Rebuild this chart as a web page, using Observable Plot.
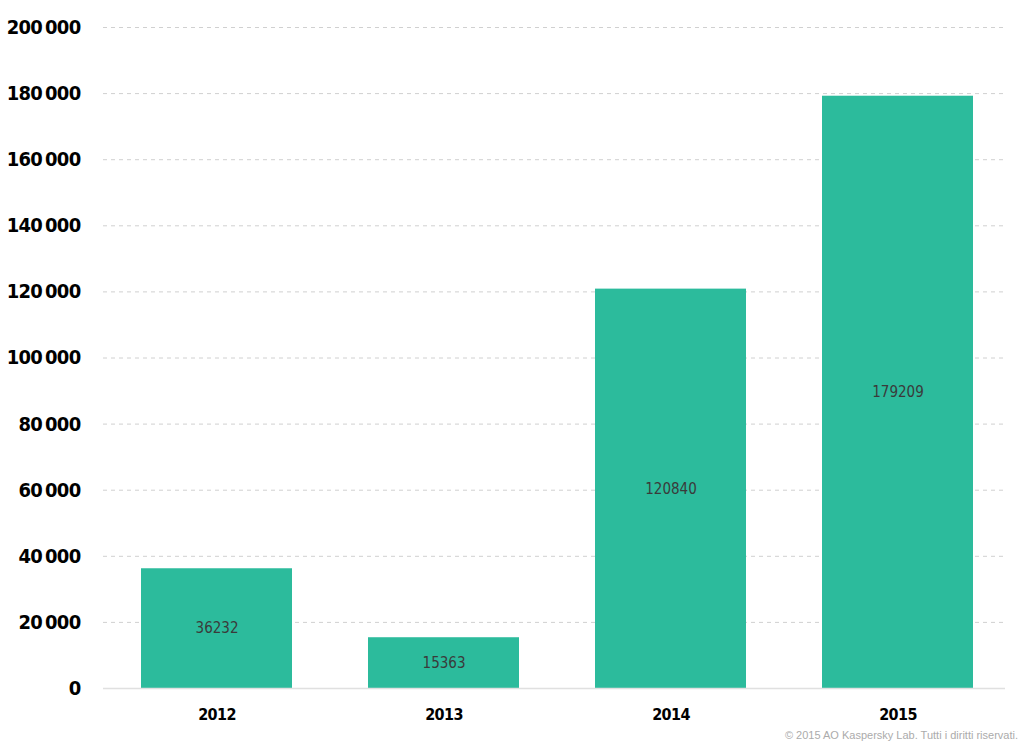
<!DOCTYPE html>
<html>
<head>
<meta charset="utf-8">
<script src="https://cdn.jsdelivr.net/npm/d3@7"></script>
<script src="https://cdn.jsdelivr.net/npm/@observablehq/plot@0.6"></script>
<style>
  body { margin: 0; background: #fff; }
  #chart svg { display: block; }
  #chart svg text { font-stretch: condensed; }
  #chart svg g[aria-label="y-axis tick label"] text { letter-spacing: -0.7px; }
  #chart svg g[aria-label="x-axis tick label"] text { letter-spacing: -0.6px; }
  #caption { font-family: "Liberation Sans", Arial, sans-serif; font-size: 11px; color: #ababab; text-align: right; padding-right: 6px; line-height: 14px; margin-top: 2px; }
</style>
</head>
<body>
<div id="chart"></div>
<div id="caption">© 2015 AO Kaspersky Lab. Tutti i diritti riservati.</div>
<script>
const years = ["2012", "2013", "2014", "2015"];
const values = [36232, 15363, 120840, 179209];
const yTicks = [0, 20000, 40000, 60000, 80000, 100000, 120000, 140000, 160000, 180000, 200000];

const data = years.map((y, i) => ({year: y, value: values[i]}));
const fmt = d => d3.format(",")(d).replace(/,/g, "\u2009");
const font = "'DejaVu Sans Condensed', 'DejaVu Sans', sans-serif";

const chart = Plot.plot({
  width: 1024,
  height: 726,
  marginLeft: 103,
  marginRight: 13,
  marginTop: 27,
  marginBottom: 38,
  style: {fontFamily: font, background: "#fff"},
  x: {domain: years, paddingInner: 0.335, paddingOuter: 0.1675, label: null},
  y: {domain: [0, 200000], label: null},
  marks: [
    Plot.ruleY(yTicks.filter(d => d > 0), {stroke: "#d0d0d0", strokeDasharray: "4,4", strokeWidth: 1, insetRight: 6}),
    Plot.barY(data, {x: "year", y: "value", fill: "#2cbb9c"}),
    Plot.ruleY([0], {stroke: "#e0e0e0", strokeWidth: 1.5, insetRight: 6}),
    Plot.text(data, {x: "year", y: d => d.value / 2, text: d => String(d.value), fill: "#3a3a3a", fontSize: 15}),
    Plot.axisY({ticks: yTicks, tickFormat: fmt, tickSize: 0, tickPadding: 23, fontSize: 20, fontWeight: "bold", fill: "#000", label: null}),
    Plot.axisX({tickSize: 0, tickPadding: 20, fontSize: 16, fontWeight: "bold", fill: "#000", label: null})
  ]
});
document.getElementById("chart").append(chart);
</script>
</body>
</html>
